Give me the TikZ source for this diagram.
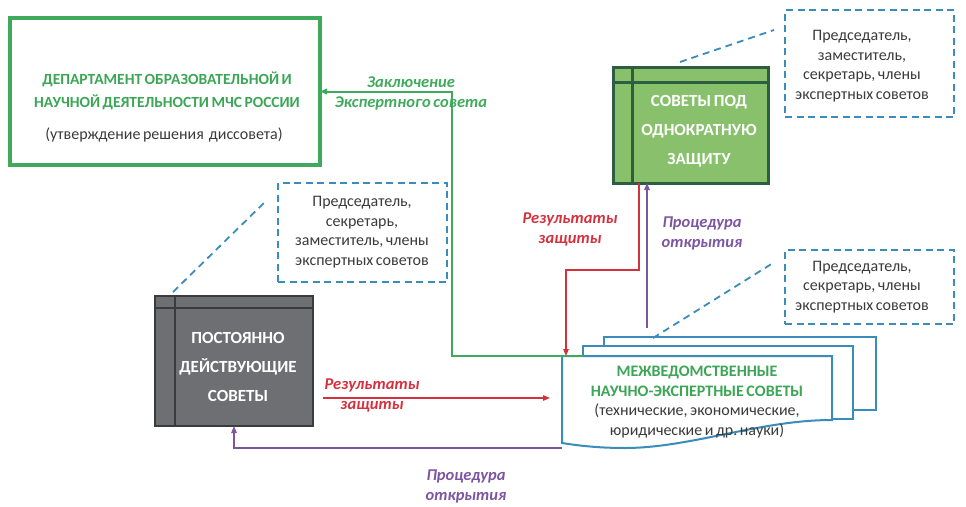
\documentclass[tikz,border=0pt]{standalone}
\usepackage{fontspec}
\setmainfont{Carlito}[WordSpace=0.7]
\usetikzlibrary{arrows.meta}
\definecolor{deptgreen}{HTML}{3FAA5C}
\definecolor{headgreen}{HTML}{3CA656}
\definecolor{oofill}{HTML}{88C06B}
\definecolor{oodraw}{HTML}{2E5E42}
\definecolor{permfill}{HTML}{6E6F72}
\definecolor{permdraw}{HTML}{3A3B3D}
\definecolor{teal}{HTML}{3A8CBB}
\definecolor{redc}{HTML}{D4313F}
\definecolor{purc}{HTML}{7C55A3}
\definecolor{txt}{HTML}{3A3A3A}
\tikzset{
  every node/.style={inner sep=0pt, outer sep=0pt},
  deptbox/.style={draw=deptgreen, line width=3.5pt, minimum width=310, minimum height=147},
  oobox/.style={draw=oodraw, fill=oofill, line width=3pt, minimum width=155, minimum height=116},
  permbox/.style={draw=permdraw, fill=permfill, line width=2.5pt, minimum width=158, minimum height=130},
  dashbox/.style={draw=teal, line width=1.8pt, dash pattern=on 7pt off 4.5pt},
  dashline/.style={draw=teal, line width=1.8pt, dash pattern=on 7pt off 5pt},
  body/.style={text=txt, font=\fontsize{16}{19.5}\selectfont, align=center},
  whitetitle/.style={text=white, font=\bfseries\fontsize{17}{29}\selectfont, align=center},
  lab/.style={font=\bfseries\itshape\fontsize{16.5}{20}\selectfont, align=center},
  tip/.style={-{Triangle[length=7pt,width=5.5pt]}},
  grnarr/.style={tip, draw=deptgreen, line width=2pt},
  redarr/.style={tip, draw=redc, line width=1.2pt},
  purarr/.style={tip, draw=purc, line width=1.2pt},
  page/.style={draw=teal, fill=white, line width=2pt},
}
\begin{document}
\begin{tikzpicture}[x=1pt,y=-1pt]
\useasboundingbox (0,0) rectangle (966,506);

% department box
\node[deptbox] (dept) at (165,91.5) {};
\node[text=headgreen, font=\bfseries\fontsize{15.5}{23}\selectfont, align=center] (depttitle) at (167,91) {ДЕПАРТАМЕНТ ОБРАЗОВАТЕЛЬНОЙ И\\НАУЧНОЙ ДЕЯТЕЛЬНОСТИ МЧС РОССИИ};
\node[body] (deptsub) at (164,135) {(утверждение решения\ \ диссовета)};

% one-off councils box
\node[oobox] (oneoff) at (690.5,125) {};
\draw[draw=oodraw, line width=3pt] ([yshift=-15]oneoff.north west) -- ([yshift=-15]oneoff.north east);
\draw[draw=oodraw, line width=3pt] ([xshift=19]oneoff.north west) -- ([xshift=19]oneoff.south west);
\node[whitetitle] (ootitle) at (699,131.5) {СОВЕТЫ ПОД\\ОДНОКРАТНУЮ\\ЗАЩИТУ};

% permanent councils box
\node[permbox] (perm) at (234,361) {};
\draw[draw=permdraw, line width=2.5pt] ([yshift=-12]perm.north west) -- ([yshift=-12]perm.north east);
\draw[draw=permdraw, line width=2.5pt] ([xshift=20]perm.north west) -- ([xshift=20]perm.south west);
\node[whitetitle] (permtitle) at (238,367) {ПОСТОЯННО\\ДЕЙСТВУЮЩИЕ\\СОВЕТЫ};

% dashed info boxes
\node[dashbox, minimum width=169, minimum height=107] (info1) at (869.5,63.5) {};
\node[body] (info1t) at (862,66) {Председатель,\\заместитель,\\секретарь, члены\\экспертных советов};
\node[dashbox, minimum width=169, minimum height=99] (info2) at (362.5,232.5) {};
\node[body] (info2t) at (362,232) {Председатель,\\секретарь,\\заместитель, члены\\экспертных советов};
\node[dashbox, minimum width=169, minimum height=74] (info3) at (869.5,287) {};
\node[body] (info3t) at (862,287) {Председатель,\\секретарь, члены\\экспертных советов};

% stacked documents
\node[page, minimum width=272, minimum height=73] (page3) at (740,373.5) {};
\node[page, minimum width=270, minimum height=73] (page2) at (718,382.5) {};
\node[minimum width=270, minimum height=92] (front) at (697,402) {};
\draw[page] (front.north west) -- (front.north east) -- ([yshift=28]front.south east)
  .. controls (760,420) and (690,448) .. (625,448)
  .. controls (595,448) and (575,445) .. ([yshift=5]front.south west) -- cycle;
\node[text=headgreen, font=\bfseries\fontsize{16}{19.5}\selectfont, align=center] (fronttitle) at (697,381.5) {МЕЖВЕДОМСТВЕННЫЕ\\НАУЧНО-ЭКСПЕРТНЫЕ СОВЕТЫ};
\node[body] (frontsub) at (697,421) {(технические, экономические,\\юридические и др.\ науки)};

% dashed connectors
\coordinate (d1a) at (680,62);
\coordinate (d1b) at (774,30);
\draw[dashline] (d1a) -- (d1b);
\coordinate (d2a) at (173,292);
\coordinate (d2b) at (267,200);
\draw[dashline] (d2a) -- (d2b);
\coordinate (d3a) at (653,338);
\coordinate (d3b) at (773,263);
\draw[dashline] (d3a) -- (d3b);

% green connector
\coordinate (g0) at (583,356);
\coordinate (gb) at (452,91.5);
\draw[grnarr] (g0) -| (gb) -- (dept.east);
\node[lab, text=deptgreen] (glab) at (411,93.5) {Заключение\\Экспертного совета};

% red: one-off -> MNES
\coordinate (rbend) at (566,270);
\draw[redarr] ([xshift=26]oneoff.south west) |- (rbend) -- (rbend |- front.north);
\node[lab, text=redc] (rlab1) at (570,229) {Результаты\\защиты};

% purple: MNES -> one-off
\coordinate (p0) at (647,328);
\draw[purarr] (p0) -- (p0 |- oneoff.south);
\node[lab, text=purc] (plab1) at (702,233) {Процедура\\открытия};

% red: perm -> MNES
\coordinate (r2a) at (323,398);
\coordinate (r2b) at (550,398);
\draw[redarr] (r2a) -- (r2b);
\node[lab, text=redc] (rlab2) at (372,395) {Результаты\\защиты};

% purple: MNES -> perm
\draw[purarr] (front.south west) -| (perm.south);
\node[lab, text=purc] (plab2) at (466,486) {Процедура\\открытия};
\end{tikzpicture}
\end{document}
